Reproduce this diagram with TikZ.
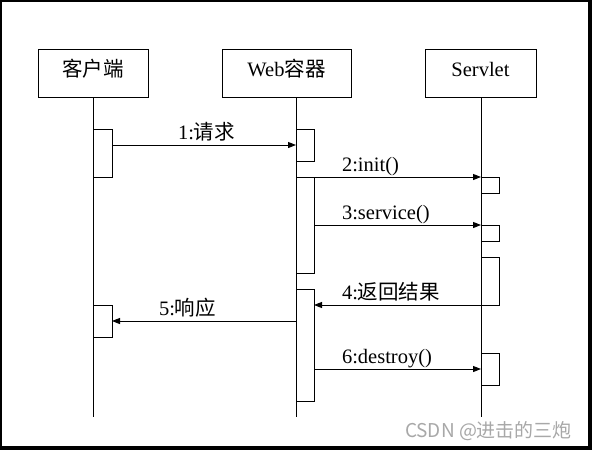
\documentclass[tikz,border=0pt]{standalone}
\usepackage{fontspec}
\setmainfont{Liberation Serif}
\newfontfamily\cjk{Noto Sans CJK SC}
\usetikzlibrary{arrows.meta}
\definecolor{wmgray}{HTML}{A8A8A8}
\begin{document}
\begin{tikzpicture}[x=1pt,y=-1pt,
  every node/.style={inner sep=0pt, outer sep=0pt, font=\fontsize{20.5}{24}\selectfont},
  head/.style={draw, line width=1pt, minimum height=48pt, text height=27pt, text depth=21pt, anchor=north west},
  act/.style={draw, fill=white, line width=1pt, minimum height=#1, minimum width=18pt, anchor=north west},
  life/.style={line width=1pt},
  msg/.style={line width=1pt, -{Triangle[length=8pt,width=6pt]}},
  lbl/.style={anchor=base west}
]
\fill[black] (0,0) rectangle (592,450);
\fill[white] (2.3,2.3) rectangle (588,446);
\useasboundingbox (0,0) rectangle (592,450);

% heads
\node[head, minimum width=110pt] (client) at (38,49) {{\cjk 客户端}};
\node[head, minimum width=129pt] (web) at (222,49) {Web{\cjk 容器}};
\node[head, minimum width=111pt] (servlet) at (425,49) {Servlet};

% lifeline ends
\coordinate (cEnd) at (93,417);
\coordinate (wEnd) at (296,417);
\coordinate (sEnd) at (481,417);
\draw[life] (client.south -| cEnd) -- (cEnd);
\draw[life] (web.south -| wEnd) -- (wEnd);
\draw[life] (servlet.south -| sEnd) -- (sEnd);

% activations
\node[act=48pt, minimum width=19pt] (cA1) at (93,129) {};
\node[act=32pt, minimum width=19pt] (cA2) at (93,305) {};
\node[act=32pt] (wA1) at (296,129) {};
\node[act=96pt] (wA2) at (296,177) {};
\node[act=112pt] (wA3) at (296,289) {};
\node[act=16pt] (sA1) at (481,177) {};
\node[act=16pt] (sA2) at (481,225) {};
\node[act=48pt] (sA3) at (481,257) {};
\node[act=32pt] (sA4) at (481,353) {};

% messages
\draw[msg] (wA1.west -| cA1.east) -- (wA1.west);
\draw[msg] (wA2.north west) -- (sA1.north west);
\draw[msg] (sA2.north west -| wA2.east) -- (sA2.north west);
\draw[msg] (sA3.south east) -- (sA3.south east -| wA3.east);
\draw[msg] (cA2.east -| wA3.west) -- (cA2.east);
\draw[msg] (sA4.west -| wA3.east) -- (sA4.west);

% labels
\node[lbl] (m1) at (178,139) {1:{\cjk 请求}};
\node[lbl] (m2) at (342,171) {2:init()};
\node[lbl] (m3) at (342,219) {3:service()};
\node[lbl] (m4) at (342,299) {4:{\cjk 返回结果}};
\node[lbl] (m5) at (159,315) {5:{\cjk 响应}};
\node[lbl] (m6) at (342,363) {6:destroy()};

% watermark
\node[anchor=base west, text=wmgray, font=\cjk\fontsize{19}{21}\selectfont] (wm) at (405,437) {CSDN @进击的三炮};
\end{tikzpicture}
\end{document}
